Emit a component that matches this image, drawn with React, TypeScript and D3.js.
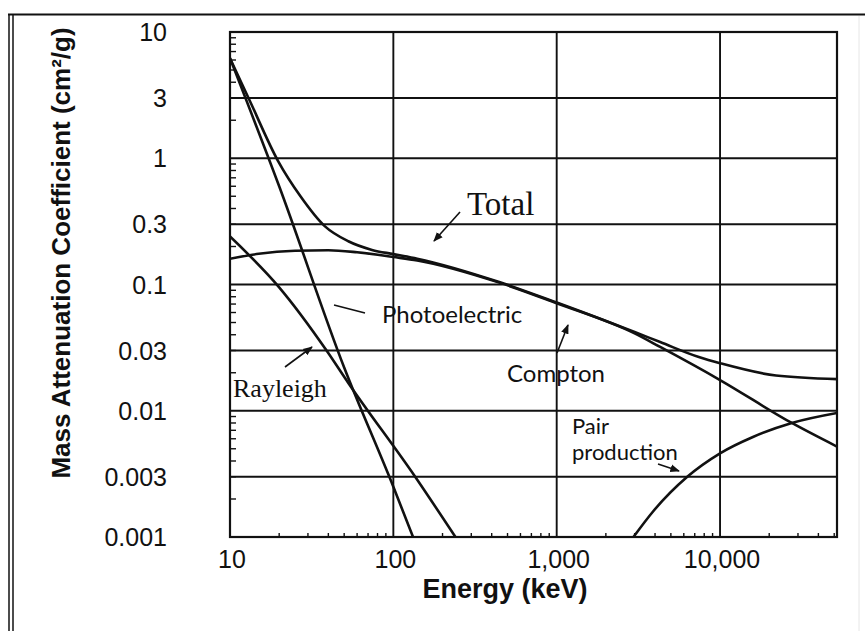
import React from "react";
import * as d3 from "d3";

const W = 865;
const H = 631;

// axis ticks
const xTicks = [10, 100, 1000, 10000];
const xTickLabels = ["10", "100", "1,000", "10,000"];
const yTicks = [10, 3, 1, 0.3, 0.1, 0.03, 0.01, 0.003, 0.001];
const yTickLabels = ["10", "3", "1", "0.3", "0.1", "0.03", "0.01", "0.003", "0.001"];

// curves: [energy keV, mass attenuation cm²/g]
const total: [number, number][] = [
  [10, 6.2], [13.3, 2.8], [19.7, 0.95], [27, 0.5], [38, 0.29], [53, 0.22], [74, 0.188],
  [100, 0.174], [140, 0.16], [450, 0.104], [1000, 0.072], [3000, 0.042], [4300, 0.035],
  [7500, 0.0265], [10000, 0.0238], [22000, 0.019], [52000, 0.0178],
];
const photoelectric: [number, number][] = [
  [10, 6.2], [20, 0.6], [50, 0.022], [100, 0.0025], [132, 0.001],
];
const rayleigh: [number, number][] = [
  [10, 0.24], [20, 0.095], [39, 0.03], [53, 0.0166], [136, 0.003], [240, 0.001],
];
const compton: [number, number][] = [
  [10, 0.16], [15, 0.175], [25, 0.185], [40, 0.187], [60, 0.18], [100, 0.165], [140, 0.155],
  [450, 0.103], [1000, 0.071], [3000, 0.041], [4300, 0.032], [10000, 0.0175], [27500, 0.008],
  [52000, 0.0052],
];
const pairProduction: [number, number][] = [
  [2950, 0.001], [3900, 0.0016], [6300, 0.003], [10000, 0.0046], [15900, 0.0062],
  [27500, 0.008], [52000, 0.0096],
];

const series = [total, photoelectric, rayleigh, compton, pairProduction];

// plot box
const left = 230, right = 837, top = 32, bottom = 537;

const x = d3.scaleLog().domain([10, 52000]).range([left, right]);
const y = d3.scaleLog().domain([0.001, 10]).range([bottom, top]);

const line = d3.line<[number, number]>()
  .x(d => x(d[0]))
  .y(d => y(d[1]))
  .curve(d3.curveMonotoneX);

// minor ticks k*10^n
const minorX: number[] = [];
for (let p = 1; p <= 4; p++) for (let k = 2; k <= 9; k++) {
  const v = k * Math.pow(10, p);
  if (v < 52000) minorX.push(v);
}
const minorY: number[] = [];
for (let p = -3; p <= 0; p++) for (let k = 2; k <= 9; k++) minorY.push(k * Math.pow(10, p));

const sans = "'Liberation Sans', Arial, sans-serif";
const serif = "'Liberation Serif', 'Times New Roman', serif";
const humanist = "Lato, 'Open Sans', sans-serif";

export default function App() {
  return (
    <div style={{ position: "absolute", left: 0, top: 0 }}>
      <svg width={W} height={H} style={{ display: "block", background: "#fff" }}>
        <defs>
          <clipPath id="plot">
            <rect x={left} y={top} width={right - left} height={bottom - top} />
          </clipPath>
          <marker id="arr" viewBox="0 0 10 10" refX="9" refY="5" markerWidth="6" markerHeight="6" orient="auto">
            <path d="M0,1 L10,5 L0,9 z" fill="#111" />
          </marker>
        </defs>

        {/* outer frame */}
        <line x1={8} x2={W} y1={14.5} y2={14.5} stroke="#111" strokeWidth={2} />
        <line x1={9} x2={9} y1={14} y2={H} stroke="#111" strokeWidth={1.5} />
        <line x1={13} x2={13} y1={14} y2={H} stroke="#111" strokeWidth={1.5} />
        <line x1={859} x2={859} y1={16} y2={H} stroke="#e6e6e6" strokeWidth={1} />

        {/* grid */}
        {xTicks.slice(1).map(t => (
          <line key={"gx" + t} x1={x(t)} x2={x(t)} y1={top} y2={bottom} stroke="#111" strokeWidth={1.9} />
        ))}
        {yTicks.slice(1, -1).map(t => (
          <line key={"gy" + t} x1={left} x2={right} y1={y(t)} y2={y(t)} stroke="#111" strokeWidth={1.9} />
        ))}

        {/* minor ticks */}
        {minorY.map(t => (
          <line key={"my" + t} x1={left} x2={left + 6} y1={y(t)} y2={y(t)} stroke="#111" strokeWidth={1.4} />
        ))}
        {minorX.map(t => (
          <line key={"mx" + t} x1={x(t)} x2={x(t)} y1={bottom} y2={bottom - 4} stroke="#111" strokeWidth={1.4} />
        ))}

        <rect x={left} y={top} width={right - left} height={bottom - top} fill="none" stroke="#111" strokeWidth={2.2} />

        {/* curves */}
        <g clipPath="url(#plot)">
          {series.map((s, i) => (
            <path key={i} d={line(s) || ""} fill="none" stroke="#111" strokeWidth={2.6} strokeLinejoin="round" />
          ))}
        </g>

        {/* tick labels */}
        {yTicks.map((t, i) => (
          <text key={"yl" + t} x={167} y={y(t)} dy="0.36em" textAnchor="end"
            fontFamily={sans} fontSize={25} fill="#111">{yTickLabels[i]}</text>
        ))}
        {xTicks.map((t, i) => (
          <text key={"xl" + t} x={x(t) + 2} y={568} textAnchor="middle"
            fontFamily={sans} fontSize={25} fill="#111">{xTickLabels[i]}</text>
        ))}

        {/* axis titles */}
        <text x={505} y={598} textAnchor="middle" fontFamily={sans} fontWeight="bold" fontSize={27} fill="#111">
          Energy (keV)
        </text>
        <text transform="translate(70,253) rotate(-90)" textAnchor="middle" fontFamily={sans}
          fontWeight="bold" fontSize={26} fill="#111">
          Mass Attenuation Coefficient (cm²/g)
        </text>

        {/* curve labels */}
        <text x={467} y={215} fontFamily={serif} fontSize={33} fill="#111">Total</text>
        <line x1={460} y1={212} x2={434} y2={241} stroke="#111" strokeWidth={1.6} markerEnd="url(#arr)" />

        <text x={382} y={323} fontFamily={humanist} fontSize={24} fill="#111">Photoelectric</text>
        <line x1={365} y1={313} x2={334} y2={305} stroke="#111" strokeWidth={1.6} />

        <text x={233} y={397} fontFamily={serif} fontSize={26} fill="#111">Rayleigh</text>
        <line x1={285} y1={367} x2={312} y2={347} stroke="#111" strokeWidth={1.6} markerEnd="url(#arr)" />

        <text x={507} y={382} fontFamily={humanist} fontSize={24} fill="#111">Compton</text>
        <line x1={557} y1={353} x2={568} y2={325} stroke="#111" strokeWidth={1.6} markerEnd="url(#arr)" />

        <text x={572} y={434} fontFamily={humanist} fontSize={22} fill="#111">Pair</text>
        <text x={572} y={460} fontFamily={humanist} fontSize={22} fill="#111">production</text>
        <line x1={658} y1={464} x2={679} y2={471} stroke="#111" strokeWidth={1.6} markerEnd="url(#arr)" />
      </svg>
    </div>
  );
}
